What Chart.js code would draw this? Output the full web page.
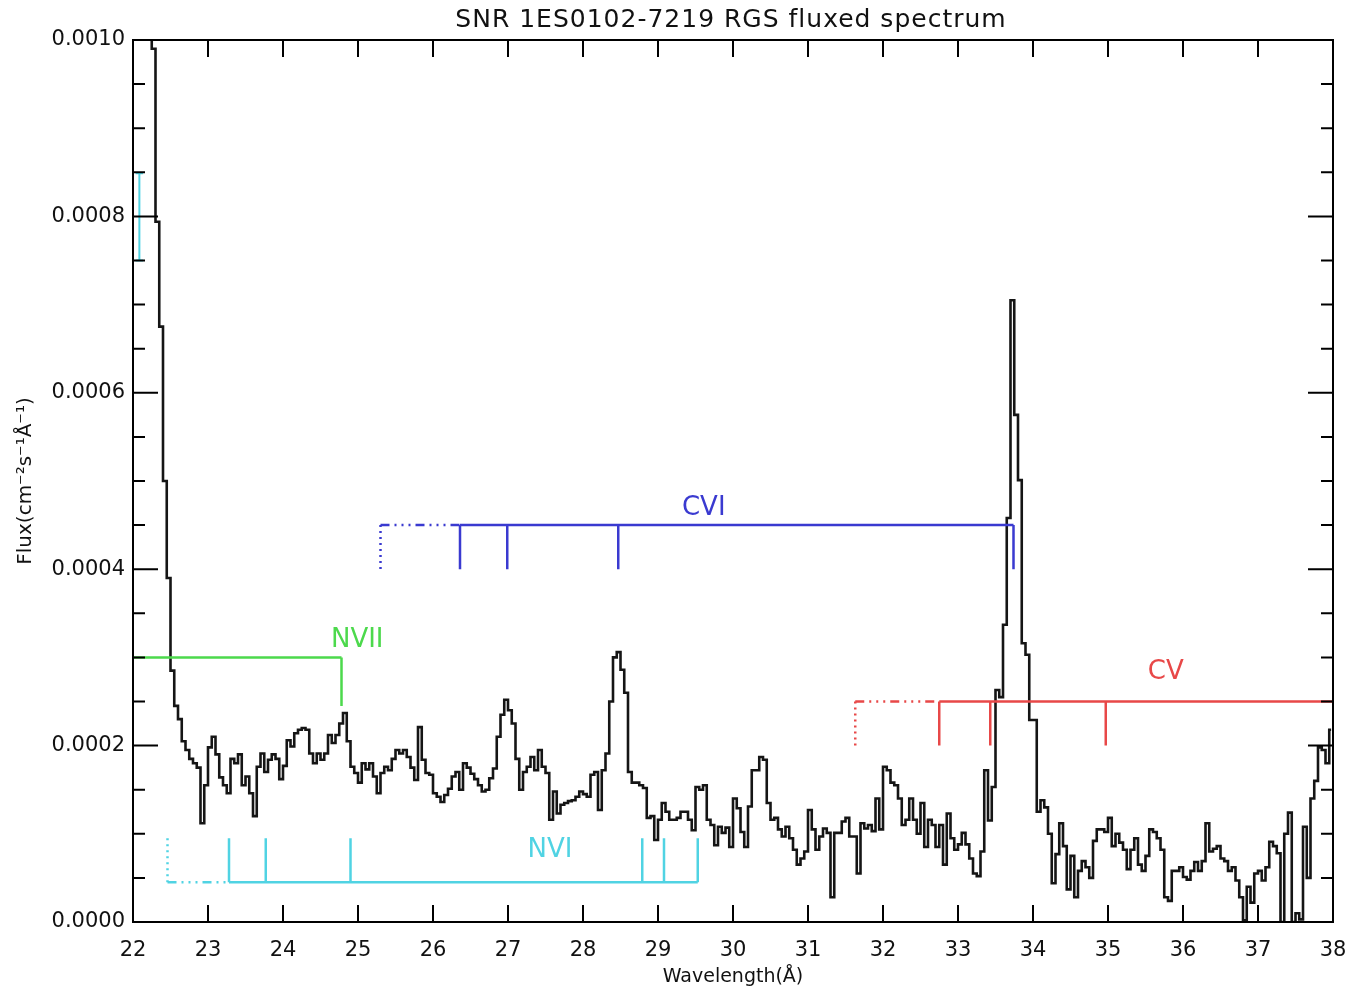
<!DOCTYPE html>
<html>
<head>
<meta charset="utf-8">
<script src="https://cdn.jsdelivr.net/npm/chart.js@4.4.1/dist/chart.umd.min.js"></script>
<style>
html,body{margin:0;padding:0;background:#fff;}
canvas{display:block;}
</style>
</head>
<body>
<canvas id="c" width="1350" height="989"></canvas>
<script>
// ---- Data (flux in units of 1e-4 cm^-2 s^-1 A^-1) ----
const wavelength = [
22.025,22.075,22.125,22.175,22.225,22.275,22.325,22.375,22.425,22.475,22.525,22.575,22.625,22.675,22.725,22.775,22.825,22.875,22.925,22.975,
23.025,23.075,23.125,23.175,23.225,23.275,23.325,23.375,23.425,23.475,23.525,23.575,23.625,23.675,23.725,23.775,23.825,23.875,23.925,23.975,
24.025,24.075,24.125,24.175,24.225,24.275,24.325,24.375,24.425,24.475,24.525,24.575,24.625,24.675,24.725,24.775,24.825,24.875,24.925,24.975,
25.025,25.075,25.125,25.175,25.225,25.275,25.325,25.375,25.425,25.475,25.525,25.575,25.625,25.675,25.725,25.775,25.825,25.875,25.925,25.975,
26.025,26.075,26.125,26.175,26.225,26.275,26.325,26.375,26.425,26.475,26.525,26.575,26.625,26.675,26.725,26.775,26.825,26.875,26.925,26.975,
27.025,27.075,27.125,27.175,27.225,27.275,27.325,27.375,27.425,27.475,27.525,27.575,27.625,27.675,27.725,27.775,27.825,27.875,27.925,27.975,
28.025,28.075,28.125,28.175,28.225,28.275,28.325,28.375,28.425,28.475,28.525,28.575,28.625,28.675,28.725,28.775,28.825,28.875,28.925,28.975,
29.025,29.075,29.125,29.175,29.225,29.275,29.325,29.375,29.425,29.475,29.525,29.575,29.625,29.675,29.725,29.775,29.825,29.875,29.925,29.975,
30.025,30.075,30.125,30.175,30.225,30.275,30.325,30.375,30.425,30.475,30.525,30.575,30.625,30.675,30.725,30.775,30.825,30.875,30.925,30.975,
31.025,31.075,31.125,31.175,31.225,31.275,31.325,31.375,31.425,31.475,31.525,31.575,31.625,31.675,31.725,31.775,31.825,31.875,31.925,31.975,
32.025,32.075,32.125,32.175,32.225,32.275,32.325,32.375,32.425,32.475,32.525,32.575,32.625,32.675,32.725,32.775,32.825,32.875,32.925,32.975,
33.025,33.075,33.125,33.175,33.225,33.275,33.325,33.375,33.425,33.475,33.525,33.575,33.625,33.675,33.725,33.775,33.825,33.875,33.925,33.975,
34.025,34.075,34.125,34.175,34.225,34.275,34.325,34.375,34.425,34.475,34.525,34.575,34.625,34.675,34.725,34.775,34.825,34.875,34.925,34.975,
35.025,35.075,35.125,35.175,35.225,35.275,35.325,35.375,35.425,35.475,35.525,35.575,35.625,35.675,35.725,35.775,35.825,35.875,35.925,35.975,
36.025,36.075,36.125,36.175,36.225,36.275,36.325,36.375,36.425,36.475,36.525,36.575,36.625,36.675,36.725,36.775,36.825,36.875,36.925,36.975,
37.025,37.075,37.125,37.175,37.225,37.275,37.325,37.375,37.425,37.475,37.525,37.575,37.625,37.675,37.725,37.775,37.825,37.875,37.925,37.975
];
const flux_e4 = [
14,16,17,15,12.5,9.9,7.94,6.75,5.0,3.9,2.85,2.45,2.30,2.05,1.95,1.85,1.80,1.75,1.12,1.55,
1.98,2.10,1.90,1.64,1.55,1.46,1.85,1.80,1.90,1.55,1.65,1.46,1.20,1.76,1.91,1.70,1.84,1.90,1.85,1.62,
1.77,2.06,1.99,2.14,2.18,2.20,2.18,1.91,1.80,1.91,1.84,1.91,2.12,2.03,2.12,2.25,2.37,2.05,1.76,1.69,
1.58,1.80,1.73,1.80,1.65,1.46,1.69,1.76,1.72,1.85,1.95,1.91,1.95,1.87,1.75,1.61,2.21,1.84,1.69,1.67,
1.46,1.42,1.36,1.44,1.51,1.65,1.70,1.50,1.80,1.75,1.68,1.62,1.55,1.48,1.50,1.63,1.74,2.10,2.35,2.52,
2.40,2.25,1.85,1.50,1.70,1.76,1.87,1.72,1.95,1.76,1.69,1.16,1.48,1.23,1.33,1.35,1.37,1.38,1.42,1.48,
1.45,1.42,1.67,1.70,1.27,1.72,1.91,2.50,3.00,3.06,2.86,2.60,1.70,1.58,1.58,1.55,1.52,1.18,1.20,0.93,
1.16,1.35,1.25,1.16,1.16,1.18,1.25,1.25,1.16,1.04,1.53,1.50,1.55,1.16,1.10,0.87,1.08,1.01,1.07,0.85,
1.40,1.29,1.02,0.85,1.31,1.72,1.72,1.87,1.84,1.35,1.16,1.18,1.05,0.97,1.08,0.95,0.82,0.65,0.72,0.80,
1.27,1.05,0.82,0.97,1.06,1.01,0.28,1.01,1.01,1.14,1.18,0.97,0.97,0.55,1.12,1.06,1.10,1.03,1.40,1.05,
1.76,1.72,1.58,1.55,1.40,1.10,1.16,1.40,1.16,1.00,1.35,0.85,1.16,1.10,0.85,1.10,0.65,1.23,0.95,0.82,
0.88,1.01,0.88,0.72,0.55,0.52,0.80,1.72,1.15,1.53,2.63,2.55,3.37,4.58,7.05,5.75,5.01,3.16,3.03,2.29,
2.29,1.25,1.38,1.30,1.00,0.44,0.77,1.12,0.86,0.37,0.75,0.28,0.58,0.69,0.62,0.50,0.92,1.05,1.05,1.02,
1.18,0.86,1.00,0.90,0.82,0.60,0.82,0.95,0.65,0.58,0.75,1.05,1.02,0.95,0.82,0.28,0.24,0.58,0.58,0.62,
0.51,0.48,0.58,0.68,0.58,0.69,1.12,0.80,0.83,0.86,0.72,0.69,0.58,0.62,0.47,0.28,0.02,0.40,0.22,0.55,
0.58,0.47,0.62,0.91,0.86,0.78,0.00,1.00,1.24,0.00,0.10,0.03,1.08,0.50,1.40,1.60,1.98,1.95,1.80,2.18
];

// Tick values / labels
const xTickValues = [22,23,24,25,26,27,28,29,30,31,32,33,34,35,36,37,38];
const yTickValues = [0,2,4,6,8,10];
const yTickLabels = ['0.0000','0.0002','0.0004','0.0006','0.0008','0.0010'];
const yMinorTickValues = [0.5,1,1.5,2.5,3,3.5,4.5,5,5.5,6.5,7,7.5,8.5,9,9.5];

// Line identifications (wavelengths in Angstrom; levels in 1e-4 units)
const nviiLines = [24.78];            const nviiBar = [22.0, 24.78]; const nviiLevel = 3.0;  const nviiTip = 2.45;
const cviLimit = 25.30; const cviLines = [26.36, 26.99, 28.47, 33.74]; const cviLevel = 4.5; const cviTip = 4.0;
const cvLimit = 31.63;  const cvLines = [32.75, 33.43, 34.97]; const cvBarEnd = 38.0; const cvLevel = 2.5; const cvTip = 2.0;
const nviLimit = 22.46; const nviLines = [23.28, 23.77, 24.90, 28.79, 29.08, 29.53]; const nviLevel = 0.45; const nviTip = 0.95;
const errBarX = 22.085; const errBarLow = 7.5; const errBarHigh = 8.49; const errCapHalf = 0.05;

const ionLabels = [
  {text:'NVII', x:24.99, y:3.20, color:'#4cd94c'},
  {text:'CVI',  x:29.61, y:4.69, color:'#3a3ad0'},
  {text:'NVI',  x:27.56, y:0.81, color:'#50d3e3'},
  {text:'CV',   x:35.77, y:2.83, color:'#e84848'}
];

// ---- helpers to turn the identification arrays into line points ----
function segments(list){ const out=[]; list.forEach(s=>{ out.push({x:s[0],y:s[1]},{x:s[2],y:s[3]},{x:s[2],y:null}); }); return out; }
function ticksAt(xs, y1, y2){ return segments(xs.map(v=>[v,y1,v,y2])); }

const GREEN='#4cd94c', BLUE='#3a3ad0', CYAN='#50d3e3', RED='#e84848';
const DOTDASH=[9,5,2,5,2,5,2,5], DOT=[2,4];

function lineDs(data,color,dash,width){
  return {data, borderColor:color, borderWidth:width||2.5, borderDash:dash||[], pointRadius:0, fill:false, spanGaps:false, stepped:false, tension:0};
}

const datasets = [
  lineDs(segments([[nviiBar[0],nviiLevel,nviiBar[1],nviiLevel]]).concat(ticksAt(nviiLines,nviiLevel,nviiTip)), GREEN),
  lineDs(segments([[cviLines[0],cviLevel,cviLines[cviLines.length-1],cviLevel]]).concat(ticksAt(cviLines,cviLevel,cviTip)), BLUE),
  lineDs(segments([[cviLimit,cviLevel,cviLines[0],cviLevel]]), BLUE, DOTDASH),
  lineDs(ticksAt([cviLimit],cviLevel,cviTip), BLUE, DOT),
  lineDs(segments([[cvLines[0],cvLevel,cvBarEnd,cvLevel]]).concat(ticksAt(cvLines,cvLevel,cvTip)), RED),
  lineDs(segments([[cvLimit,cvLevel,cvLines[0],cvLevel]]), RED, DOTDASH),
  lineDs(ticksAt([cvLimit],cvLevel,cvTip), RED, DOT),
  lineDs(segments([[nviLines[0],nviLevel,nviLines[nviLines.length-1],nviLevel]]).concat(ticksAt(nviLines,nviLevel,nviTip)), CYAN),
  lineDs(segments([[nviLimit,nviLevel,nviLines[0],nviLevel]]), CYAN, DOTDASH),
  lineDs(ticksAt([nviLimit],nviLevel,nviTip), CYAN, DOT),
  lineDs(segments([[errBarX,errBarLow,errBarX,errBarHigh],[errBarX-errCapHalf,errBarLow,errBarX+errCapHalf,errBarLow],[errBarX-errCapHalf,errBarHigh,errBarX+errCapHalf,errBarHigh]]), CYAN, [], 2),
  {data: wavelength.map((w,i)=>({x:w,y:flux_e4[i]})), borderColor:'#151515', borderWidth:2.6, pointRadius:0, fill:false, stepped:'middle', tension:0}
];

const FONT = "'DejaVu Sans', sans-serif";

const decor = {
  id:'decor',
  afterDatasetsDraw(chart){
    const {ctx, chartArea:a, scales:{x,y}} = chart;
    ctx.save();
    ctx.strokeStyle='#000'; ctx.lineWidth=2;
    ctx.strokeRect(a.left, a.top, a.right-a.left, a.bottom-a.top);
    ctx.beginPath();
    xTickValues.forEach(v=>{ const p=x.getPixelForValue(v); ctx.moveTo(p,a.bottom); ctx.lineTo(p,a.bottom-17); ctx.moveTo(p,a.top); ctx.lineTo(p,a.top+17); });
    yTickValues.forEach(v=>{ const p=y.getPixelForValue(v); ctx.moveTo(a.left,p); ctx.lineTo(a.left+25,p); ctx.moveTo(a.right,p); ctx.lineTo(a.right-25,p); });
    yMinorTickValues.forEach(v=>{ const p=y.getPixelForValue(v); ctx.moveTo(a.left,p); ctx.lineTo(a.left+12,p); ctx.moveTo(a.right,p); ctx.lineTo(a.right-12,p); });
    ctx.stroke();
    ctx.textAlign='center'; ctx.textBaseline='middle';
    ctx.font="26px "+FONT;
    ionLabels.forEach(l=>{ ctx.fillStyle=l.color; ctx.fillText(l.text, x.getPixelForValue(l.x), y.getPixelForValue(l.y)); });
    ctx.fillStyle='#111'; ctx.font="25px "+FONT;
    try { ctx.letterSpacing='1px'; } catch(e) {}
    ctx.fillText('SNR 1ES0102-7219 RGS fluxed spectrum', (a.left+a.right)/2 - 2, 20);
    ctx.restore();
  }
};

new Chart(document.getElementById('c'), {
  type:'line',
  data:{datasets},
  options:{
    responsive:false, animation:false, devicePixelRatio:1,
    layout:{padding:{left:0,right:17,top:40,bottom:0}},
    plugins:{legend:{display:false}, tooltip:{enabled:false}, title:{display:false}},
    scales:{
      x:{type:'linear', min:22, max:38,
         afterBuildTicks:s=>{ s.ticks = xTickValues.map(v=>({value:v})); },
         afterFit:s=>{ s.height=67; s.paddingLeft=0; s.paddingRight=0; },
         grid:{display:false}, border:{display:false},
         ticks:{color:'#111', font:{family:FONT,size:21}, padding:8, maxRotation:0, autoSkip:false, callback:v=>String(v)},
         title:{display:true, text:'Wavelength(Å)', color:'#111', font:{family:FONT,size:19}, padding:{top:0,bottom:1}}
      },
      y:{type:'linear', min:0, max:10,
         afterBuildTicks:s=>{ s.ticks = yTickValues.map(v=>({value:v})); },
         afterFit:s=>{ s.width=133; s.paddingTop=0; s.paddingBottom=0; },
         grid:{display:false}, border:{display:false},
         ticks:{color:'#111', font:{family:FONT,size:21}, padding:0, autoSkip:false, callback:v=>yTickLabels[yTickValues.indexOf(v)]},
         title:{display:true, text:'Flux(cm⁻²s⁻¹Å⁻¹)', color:'#111', font:{family:FONT,size:20}, padding:{top:14,bottom:0}}
      }
    }
  },
  plugins:[decor]
});
</script>
</body>
</html>
